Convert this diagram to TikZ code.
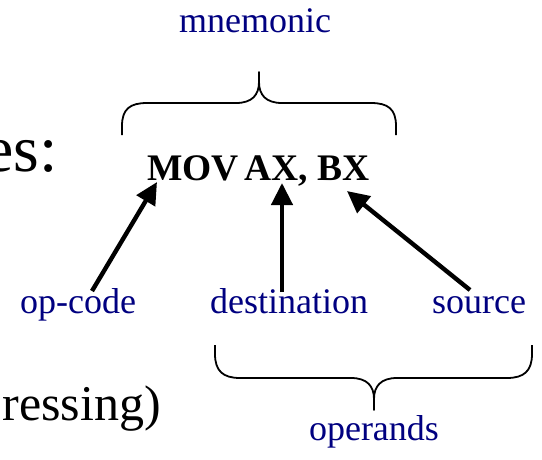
\documentclass[tikz,border=0pt]{standalone}
\usepackage{fontspec}
\setmainfont{Liberation Serif}
\usetikzlibrary{arrows.meta}
\definecolor{labelblue}{RGB}{0,0,128}
\begin{document}
\begin{tikzpicture}[x=1pt,y=-1pt,
  lbl/.style={text=labelblue,font=\fontsize{36}{40}\selectfont,inner sep=0pt},
  body/.style={font=\fontsize{66}{72}\selectfont,inner sep=0pt},
  instr/.style={font=\fontsize{37.5}{42}\selectfont\bfseries,inner sep=0pt},
  pointer/.style={line width=4.4pt,-{Triangle[length=22pt,width=21pt]}},
  bracecurve/.style={line width=1.8pt,line join=round}]
\useasboundingbox (0,0) rectangle (542,459);

% fragments of the surrounding slide text
\node[body,anchor=base east] (es) at (58,171) {es:};
\node[body,font=\fontsize{50}{56}\selectfont,anchor=base east] (ress) at (161,420) {ressing)};

% the instruction
\node[instr,anchor=base west] (ins) at (147,180) {MOV\hspace{-4pt} AX, BX};

% labels
\node[lbl,anchor=base] (mnem) at (255,32) {mnemonic};
\node[lbl,anchor=base west] (opc) at (20,313) {op-code};
\node[lbl,anchor=base west] (dst) at (210,313) {destination};
\node[lbl,anchor=base west] (src) at (432,313) {source};
\node[lbl,anchor=base] (opnds) at (374,440) {operands};

% arrow targets on the instruction and arrow tails above the labels
\coordinate (tMOV) at (157,182);
\coordinate (tAX) at (282,183);
\coordinate (tBX) at (347,191);
\coordinate (fOPC) at (92,291);
\coordinate (fDST) at (282,292);
\coordinate (fSRC) at (470,290);

\draw[pointer] (fOPC) -- (tMOV);
\draw[pointer] (fDST) -- (tAX);
\draw[pointer] (fSRC) -- (tBX);

% brace over the mnemonic
\draw[bracecurve] (122,135) -- (122,126)
  .. controls (122,109) and (130,103) .. (147,103) -- (236,103)
  .. controls (252,103) and (259,95) .. (259,82) -- (259,72)
  -- (259,82) .. controls (259,95) and (266,103) .. (282,103) -- (371,103)
  .. controls (388,103) and (396,109) .. (396,126) -- (396,135);

% brace under the operands
\draw[bracecurve] (215,345) -- (215,354)
  .. controls (215,371) and (223,378) .. (240,378) -- (351,378)
  .. controls (367,378) and (374,386) .. (374,399) -- (374,410)
  -- (374,399) .. controls (374,386) and (381,378) .. (397,378) -- (507,378)
  .. controls (524,378) and (532,371) .. (532,354) -- (532,345);
\end{tikzpicture}
\end{document}
